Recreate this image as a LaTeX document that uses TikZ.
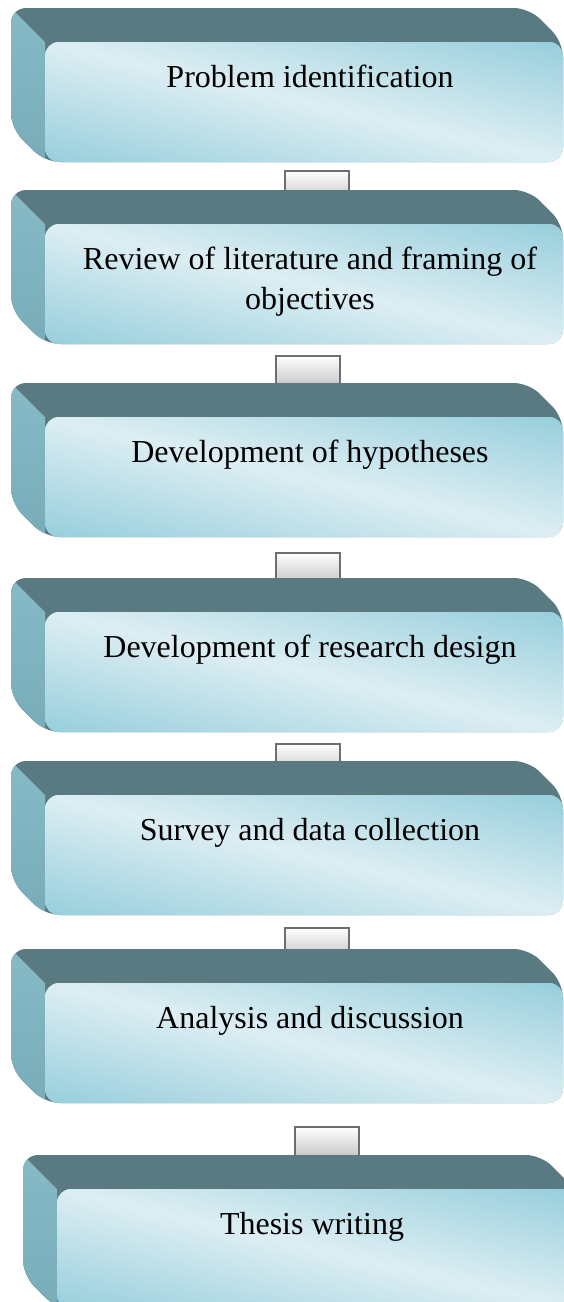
\documentclass[tikz,border=0pt]{standalone}
\usepackage{fontspec}
\setmainfont{Liberation Serif}
\begin{document}
\definecolor{topshade}{HTML}{5A7A82}
\definecolor{sidelight}{HTML}{86BAC7}
\definecolor{sidedark}{HTML}{78ACB9}
\definecolor{frontdark}{HTML}{96CEDC}
\definecolor{frontlight}{HTML}{DDEEF3}
\definecolor{linkline}{HTML}{6E6E6E}
\definecolor{linkbottom}{HTML}{C6C6C6}
\begin{tikzpicture}[x=1pt,y=-1pt,
  topface/.style={fill=topshade},
  sideface/.style={top color=sidelight, bottom color=sidedark},
  frontface/.style={rectangle, rounded corners=14pt, minimum width=518pt,
    minimum height=120pt, inner sep=0pt, fill=frontdark,
    path picture={
      \begin{scope}[transform canvas={rotate around={-13:(path picture bounding box.center)}}]
        \shade[top color=frontdark, bottom color=frontdark, middle color=frontlight]
          ([shift={(-300pt,-118pt)}]path picture bounding box.center)
          rectangle ([shift={(300pt,118pt)}]path picture bounding box.center);
      \end{scope}}},
  steptext/.style={text width=500pt, align=flush center, inner sep=0pt,
    font=\fontsize{32}{40}\selectfont},
  linkbox/.style={rectangle, draw=linkline, line width=1.6pt, inner sep=0pt,
    minimum width=64pt, minimum height=30pt, top color=white,
    bottom color=linkbottom, shading angle=0}]

% picture frame
\clip (0,0) rectangle (564,1302);

% one bevelled block: #1 name, #2 front-left x, #3 front-top y, #4 text x, #5 text
\newcommand\stepblock[5]{%
  \path[topface, rounded corners=15pt]
    ({#2-34},{#3-34}) -- ({#2+484},{#3-34}) -- ({#2+518},{#3})
    -- ({#2+518},{#3+120}) -- ({#2},{#3+120}) -- ({#2-34},{#3+86}) -- cycle;
  \begin{scope}
    \clip[rounded corners=15pt]
      ({#2-34},{#3-34}) -- ({#2+484},{#3-34}) -- ({#2+518},{#3})
      -- ({#2+518},{#3+120}) -- ({#2},{#3+120}) -- ({#2-34},{#3+86}) -- cycle;
    \path[sideface] ({#2-34},{#3-34}) -- ({#2},{#3}) -- ({#2},{#3+120})
      -- ({#2-34},{#3+86}) -- cycle;
  \end{scope}
  \node[frontface] (#1) at ({#2+259},{#3+60}) {};
  \node[steptext, anchor=base] (#1t) at ({#4},{#3+45}) {#5};
}

% connecting tabs, drawn first so the next block covers their lower part
\node[linkbox, anchor=north] (c1) at (317,170) {};
\node[linkbox, anchor=north] (c2) at (308,355) {};
\node[linkbox, anchor=north] (c3) at (308,552) {};
\node[linkbox, anchor=north] (c4) at (308,743) {};
\node[linkbox, anchor=north] (c5) at (317,927) {};
\node[linkbox, anchor=north] (c6) at (327,1126) {};

\stepblock{s1}{45}{42}{310}{Problem identification}
\stepblock{s2}{45}{224}{310}{Review of literature and framing of\\objectives}
\stepblock{s3}{45}{417}{310}{Development of hypotheses}
\stepblock{s4}{45}{612}{310}{Development of research design}
\stepblock{s5}{45}{795}{310}{Survey and data collection}
\stepblock{s6}{45}{983}{310}{Analysis and discussion}
\stepblock{s7}{57}{1189}{312}{Thesis writing}
\end{tikzpicture}
\end{document}
